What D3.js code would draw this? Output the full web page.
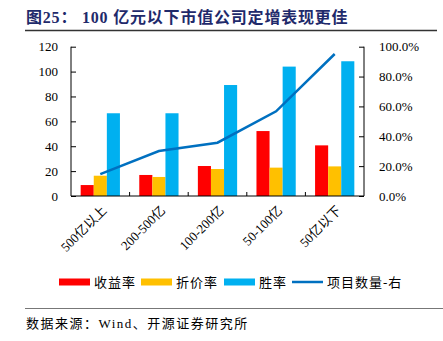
<!DOCTYPE html>
<html>
<head>
<meta charset="utf-8">
<script src="https://cdn.jsdelivr.net/npm/d3@7"></script>
<style>
  body { margin: 0; background: #fff; }
  text { font-family: "Liberation Serif", "Noto Sans CJK SC", serif; fill: #000; }
  .axis path, .axis line { stroke: #000; stroke-width: 1; }
</style>
</head>
<body>
<div id="viz"></div>
<script>
var width = 443, height = 341;

// chart data
var categories = ["500亿以上", "200-500亿", "100-200亿", "50-100亿", "50亿以下"];
var yieldRate = [8.8, 16.9, 24.1, 52.2, 40.7];     // 收益率
var discountRate = [16.3, 15.3, 21.7, 22.8, 23.8]; // 折价率
var winRate = [66.5, 66.5, 89.2, 104, 108.3];      // 胜率
var projectCount = [0.147, 0.301, 0.357, 0.567, 0.951]; // 项目数量-右
var leftTicks = [0, 20, 40, 60, 80, 100, 120];
var rightTicks = [0, 0.2, 0.4, 0.6, 0.8, 1.0];

var seriesNames = ["收益率", "折价率", "胜率"];
var seriesColors = ["#ff0000", "#ffc000", "#00b0f0"];
var lineColor = "#0070c0";

var plot = { left: 71, right: 364, top: 46.7, bottom: 196 };

var svg = d3.select("#viz").append("svg").attr("width", width).attr("height", height);

// title + rule
svg.append("text")
    .attr("x", 26).attr("y", 23)
    .style("font-size", "16px").style("font-weight", "bold")
    .style("letter-spacing", "0.8px")
    .style("fill", "#1f2a6b")
    .text("图25：  100 亿元以下市值公司定增表现更佳");

svg.append("line")
    .attr("x1", 25).attr("x2", 437).attr("y1", 30.5).attr("y2", 30.5)
    .attr("stroke", "#333").attr("stroke-width", 1.5);

var x0 = d3.scaleBand()
    .domain(categories)
    .range([plot.left, plot.right])
    .paddingInner(0.33)
    .paddingOuter(0.165);

var xOuter = d3.scaleBand()
    .domain(categories)
    .range([plot.left, plot.right]);

var x1 = d3.scaleBand()
    .domain(seriesNames)
    .range([0, x0.bandwidth()]);

var yL = d3.scaleLinear().domain([0, 120]).range([plot.bottom, plot.top]);
var yR = d3.scaleLinear().domain([0, 1]).range([plot.bottom, plot.top]);

// bars
var rows = categories.map(function(c, i) {
  return { cat: c, vals: [yieldRate[i], discountRate[i], winRate[i]] };
});

var group = svg.selectAll(".grp")
  .data(rows)
  .enter().append("g")
    .attr("class", "grp")
    .attr("transform", function(d) { return "translate(" + x0(d.cat) + ",0)"; });

group.selectAll("rect")
  .data(function(d) { return d.vals.map(function(v, j) { return { name: seriesNames[j], v: v, j: j }; }); })
  .enter().append("rect")
    .attr("x", function(d) { return x1(d.name); })
    .attr("width", x1.bandwidth())
    .attr("y", function(d) { return yL(d.v); })
    .attr("height", function(d) { return plot.bottom - yL(d.v); })
    .attr("fill", function(d) { return seriesColors[d.j]; });

// line on right axis
var line = d3.line()
    .x(function(d, i) { return xOuter(categories[i]) + xOuter.bandwidth() / 2; })
    .y(function(d) { return yR(d); });

svg.append("path")
    .datum(projectCount)
    .attr("d", line)
    .attr("fill", "none")
    .attr("stroke", lineColor)
    .attr("stroke-width", 2.5);

// axes
var leftAxis = svg.append("g")
    .attr("class", "axis")
    .attr("transform", "translate(" + plot.left + ",0)")
    .call(d3.axisLeft(yL).tickValues(leftTicks).tickSize(-5).tickPadding(13));

var rightAxis = svg.append("g")
    .attr("class", "axis")
    .attr("transform", "translate(" + plot.right + ",0)")
    .call(d3.axisRight(yR).tickValues(rightTicks).tickSize(-5).tickPadding(15)
      .tickFormat(d3.format(".1%")));

[leftAxis, rightAxis].forEach(function(a) {
  a.select(".domain").attr("d", "M0," + plot.top + "V" + plot.bottom);
  a.selectAll("text").style("font-size", "13px")
    .style("font-family", "'Liberation Serif', serif");
});

// x baseline with boundary ticks
var xAxis = svg.append("g").attr("class", "axis");
xAxis.append("line")
    .attr("x1", plot.left).attr("x2", plot.right)
    .attr("y1", plot.bottom).attr("y2", plot.bottom);
xAxis.selectAll(".bt")
  .data(categories.slice(1))
  .enter().append("line")
    .attr("x1", function(d) { return xOuter(d); })
    .attr("x2", function(d) { return xOuter(d); })
    .attr("y1", plot.bottom).attr("y2", plot.bottom - 4);

xAxis.selectAll(".xl")
  .data(categories)
  .enter().append("text")
    .attr("text-anchor", "end")
    .attr("transform", function(d) {
      return "translate(" + (xOuter(d) + xOuter.bandwidth() / 2 + 4) + "," + (plot.bottom + 12) + ") rotate(-45)";
    })
    .attr("dy", "0.35em")
    .style("font-size", "13px")
    .text(function(d) { return d; });

// legend
var legendItems = [
  { name: "收益率", color: seriesColors[0], type: "rect", x: 59 },
  { name: "折价率", color: seriesColors[1], type: "rect", x: 141 },
  { name: "胜率", color: seriesColors[2], type: "rect", x: 224 },
  { name: "项目数量-右", color: lineColor, type: "line", x: 292 }
];
var legendY = 282;
var lg = svg.selectAll(".lg")
  .data(legendItems)
  .enter().append("g")
    .attr("transform", function(d) { return "translate(" + d.x + "," + legendY + ")"; });

lg.filter(function(d) { return d.type == "rect"; }).append("rect")
    .attr("x", 0).attr("y", -3.5).attr("width", 31).attr("height", 7)
    .attr("fill", function(d) { return d.color; });
lg.filter(function(d) { return d.type == "line"; }).append("line")
    .attr("x1", 0).attr("x2", 31).attr("y1", 0).attr("y2", 0)
    .attr("stroke", function(d) { return d.color; }).attr("stroke-width", 2.5);
lg.append("text")
    .attr("x", 35).attr("dy", "0.35em")
    .style("font-size", "13px")
    .style("letter-spacing", "1px")
    .text(function(d) { return d.name; });

// footer
svg.append("line")
    .attr("x1", 25).attr("x2", 443).attr("y1", 308.5).attr("y2", 308.5)
    .attr("stroke", "#777").attr("stroke-width", 1.2);
svg.append("text")
    .attr("x", 26).attr("y", 328)
    .style("font-size", "13px")
    .style("letter-spacing", "1.5px")
    .text("数据来源：Wind、开源证券研究所");
</script>
</body>
</html>
